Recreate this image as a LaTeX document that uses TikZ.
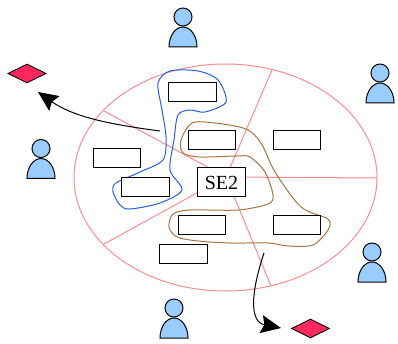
\documentclass[tikz,border=0pt]{standalone}
\usepackage{tikz}
\usepackage{fontspec}
\setmainfont{Liberation Serif}
\usetikzlibrary{arrows.meta,shapes.geometric}
\definecolor{userblue}{RGB}{153,204,255}
\definecolor{sector}{RGB}{255,140,145}
\definecolor{diamondred}{RGB}{255,40,95}
\definecolor{groupblue}{RGB}{35,95,235}
\definecolor{groupbrown}{RGB}{170,115,65}
\tikzset{
  srv/.style={draw, fill=white, line width=1pt, minimum width=47.5pt, minimum height=19pt, inner sep=0pt},
  sink/.style={diamond, draw, fill=diamondred, line width=0.9pt, minimum width=38pt, minimum height=19pt, inner sep=0pt, aspect=2},
  sectorline/.style={sector, line width=1pt},
  flowline/.style={black, line width=1pt, -{Stealth[length=20pt,width=18pt,inset=3pt]}},
}
\newcommand{\person}[2]{%
  \filldraw[fill=userblue, line width=1pt] (#1-14,#2+30) arc[start angle=180, end angle=360, x radius=14, y radius=20] -- cycle;
  \filldraw[fill=userblue, line width=1pt] (#1,#2) circle[radius=9];
}
\begin{document}
\begin{tikzpicture}[x=1pt,y=-1pt]
\useasboundingbox (0,0) rectangle (398,344);

\draw[sectorline] (225.5,177.5) ellipse[x radius=151.5, y radius=113.5];
\draw[sectorline] (226,177) -- (104,111);
\draw[sectorline] (226,177) -- (272,70);
\draw[sectorline] (226,177) -- (377,178);
\draw[sectorline] (226,177) -- (271,286);
\draw[sectorline] (226,177) -- (104,244);

% blue group
\draw[groupblue, line width=1pt] plot[smooth cycle, tension=0.5] coordinates {
  (170,71) (198,71) (218,80) (226,102) (205,112) (190,110) (178,115) (174,140) (170,170)
  (182,190) (160,203) (130,209) (120,205) (113,192) (116,183) (140,172) (163,160)
  (166,137) (162,110) (158,83)};
% brown group
\draw[groupbrown, line width=1pt] plot[smooth cycle, tension=0.5] coordinates {
  (192,123) (215,123) (246,129) (261,143) (275,172) (301,207) (328,219) (328,230) (313,245)
  (288,246) (268,243) (231,243) (198,241) (177,237) (169,227) (173,214) (190,210)
  (238,210) (268,204) (273,195) (265,172) (250,157) (237,156) (200,157) (183,153) (181,140)};

\node[srv] (srvA) at (192.5,92.5) {};
\node[srv] (srvB) at (212,140) {};
\node[srv] (srvC) at (297,140) {};
\node[srv] (srvD) at (117,158.5) {};
\node[srv] (srvE) at (145.5,187) {};
\node[srv, minimum height=29pt, font=\fontsize{20}{20}\selectfont] (se) at (221.5,182.5) {SE2};
\node[srv] (srvF) at (202,225) {};
\node[srv] (srvG) at (297,225) {};
\node[srv] (srvH) at (183.5,253.5) {};

\person{183}{17}
\person{380}{73}
\person{41}{148.5}
\person{372}{252}
\person{174}{308}

\node[sink] (sinkA) at (27,73.5) {};
\node[sink] (sinkB) at (310.5,328.5) {};

\coordinate (startA) at (160,131);
\coordinate (startB) at (264,253);
\draw[flowline] (startA) .. controls (115,125) and (75,118) .. (38,92);
\draw[flowline] (startB) .. controls (250,295) and (250,322) .. (281,328);

\end{tikzpicture}
\end{document}
